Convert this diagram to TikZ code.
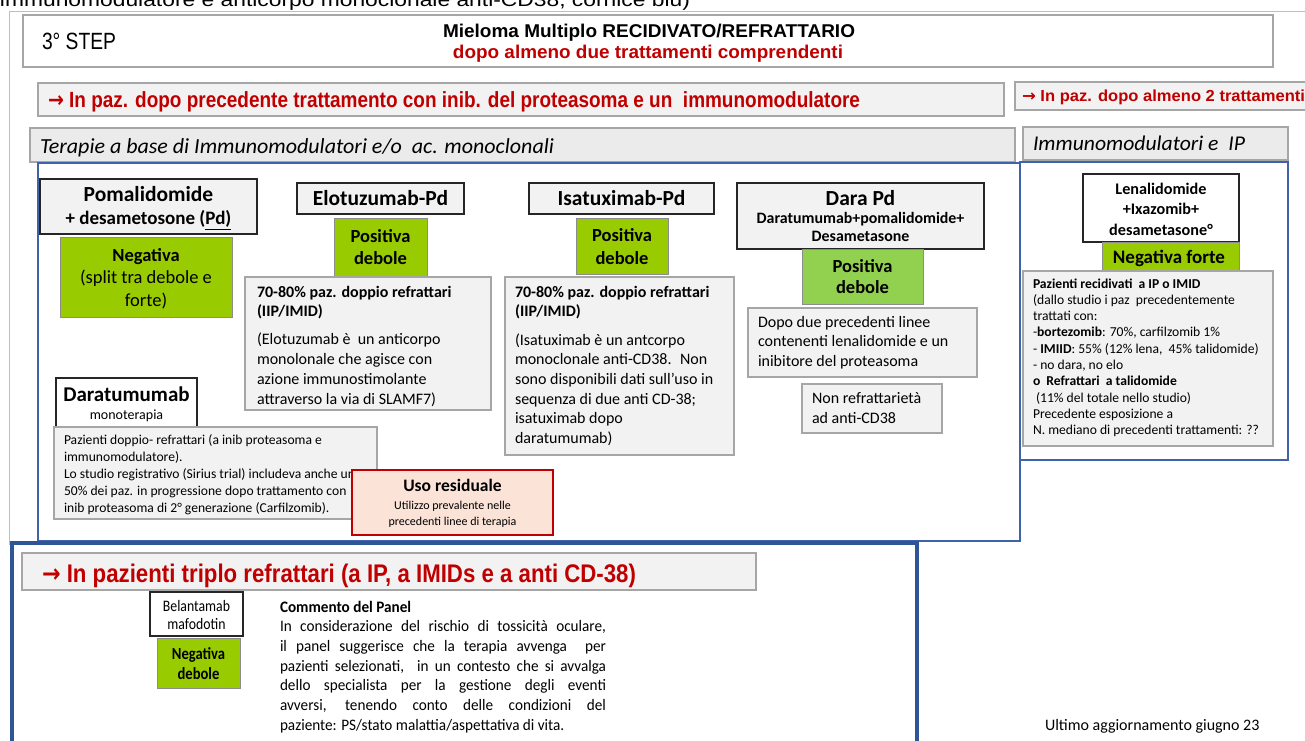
\documentclass[tikz,border=0pt]{standalone}
\usepackage{fontspec}
\usepackage{graphicx}
\setmainfont{Carlito}
\newfontfamily\arialf{Liberation Sans}
\newfontfamily\djvf{DejaVu Sans}
\newfontfamily\cnarrowf[FakeStretch=0.86]{Carlito}
\newfontfamily\cnarrowbf[FakeStretch=0.95]{Carlito}
\newcommand{\fitw}[2]{\resizebox{#1pt}{\height}{#2}}
\newcommand{\fsz}[2]{\fontsize{#1}{#2}\selectfont}
\newcommand{\rarr}{{\djvf →}}
\newcommand{\mkbox}[6]{\node[#1, minimum width={(#5)-(#3)}, minimum height={(#6)-(#4)}] (#2) at (#3,#4) {};}
\definecolor{redtxt}{HTML}{C00000}
\definecolor{boxgray}{HTML}{F2F2F2}
\definecolor{hdrgray}{HTML}{EBEBEB}
\definecolor{linegray}{HTML}{A6A6A6}
\definecolor{framegray}{HTML}{BFBFBF}
\definecolor{darkline}{HTML}{262626}
\definecolor{lime}{HTML}{99CC00}
\definecolor{lightgreen}{HTML}{92D050}
\definecolor{greenedge}{HTML}{8C8C8C}
\definecolor{bluepanel}{HTML}{3F62A8}
\definecolor{bluethick}{HTML}{2F5597}
\definecolor{salmon}{HTML}{FBE3D8}
\tikzset{
  box/.style={anchor=north west, inner sep=0pt, outer sep=0pt, rectangle},
  titlebx/.style={box, draw=linegray, line width=1.3pt, fill=white},
  stripbox/.style={box, draw=linegray, line width=1.4pt, fill=boxgray},
  hdrbox/.style={box, draw=linegray, line width=1.3pt, fill=hdrgray},
  graybox/.style={box, draw=linegray, line width=1.4pt, fill=boxgray},
  darkbox/.style={box, draw=darkline, line width=1.6pt, fill=boxgray},
  whitebox/.style={box, draw=darkline, line width=1.6pt, fill=white},
  greenbox/.style={box, draw=greenedge, line width=1pt, fill=lime},
  greenboxl/.style={box, draw=greenedge, line width=1pt, fill=lightgreen},
  usobox/.style={box, draw=redtxt, line width=1.2pt, fill=salmon},
  panel/.style={box, draw=bluepanel, line width=1.2pt},
  thickpanel/.style={box, draw=bluethick, line width=4.5pt},
  txt/.style={anchor=base west, inner sep=0pt, outer sep=0pt},
  ctxt/.style={anchor=base, inner sep=0pt, outer sep=0pt},
}
\begin{document}
\begin{tikzpicture}[x=1pt,y=-1pt]
\useasboundingbox (0,0) rectangle (1305,740);
\begin{scope}
\clip (0,0) rectangle (1305,740);
\fill[white] (0,0) rectangle (1305,740);

% cut text at top
\node[txt, font=\arialf\fsz{19}{20}] (cut) at (0,6) {\fitw{690}{immunomodulatore e anticorpo monoclonale anti-CD38, cornice blu)}};

% slide frame
\draw[framegray, line width=1.5pt] (9.5,545) -- (9.5,11.5) -- (1305,11.5);

% title
\mkbox{titlebx}{title}{23}{15}{1273}{67}
\node[txt, font=\arialf\fsz{23.5}{24}] (step) at (42,49) {\fitw{74}{3° STEP}};
\node[ctxt, font=\arialf\bfseries\fsz{18.5}{19}] (tl1) at (649,37.5) {\fitw{412}{Mieloma Multiplo RECIDIVATO/REFRATTARIO}};
\node[ctxt, font=\arialf\bfseries\fsz{18.5}{19}, text=redtxt] (tl2) at (648,58) {\fitw{390}{dopo almeno due trattamenti comprendenti}};

% strips
\mkbox{stripbox}{s1}{38}{83}{1004}{116}
\node[txt, font=\arialf\bfseries\fsz{22}{24}, text=redtxt] (s1t) at (48,107) {\fitw{812}{\rarr\ In paz. dopo precedente trattamento con inib. del proteasoma e un~ immunomodulatore}};
\mkbox{stripbox}{s2}{1015}{82}{1320}{110}
\node[txt, font=\arialf\bfseries\fsz{16}{17}, text=redtxt] (s2t) at (1022,101.5) {\fitw{283}{\rarr\ In paz. dopo almeno 2 trattamenti}};

% headers
\mkbox{hdrbox}{h1}{30}{128}{1015}{162}
\node[txt, font=\itshape\fsz{21.5}{22}] (h1t) at (40,153.5) {\fitw{514}{Terapie a base di Immunomodulatori e/o~ ac. monoclonali}};
\mkbox{hdrbox}{h2}{1023}{127}{1288}{160}
\node[txt, font=\itshape\fsz{21}{22}] (h2t) at (1033,150.5) {\fitw{212}{Immunomodulatori e~ IP}};

% panels
\mkbox{panel}{lp}{38}{163}{1020}{541}
\mkbox{panel}{rp}{1020}{162}{1288}{460}

% Pomalidomide
\mkbox{darkbox}{pom}{40}{179}{257}{234}
\node[ctxt, font=\bfseries\fsz{21.5}{24}] (pomt1) at (148.5,201.5) {Pomalidomide};
\node[ctxt, font=\bfseries\fsz{19}{22}] (pomt2) at (148.5,224.5) {+ desametosone (\underline{Pd)}};
\mkbox{greenbox}{pomg}{60}{237}{232}{317}
\node[ctxt, font=\fsz{18.5}{22.7}] (pomgt) at (146,261) {\parbox[t]{170pt}{\centering\textbf{Negativa}\\(split tra debole e\\forte)}};

% Elotuzumab
\mkbox{darkbox}{elo}{297}{183}{464}{214}
\node[ctxt, font=\bfseries\fsz{21.5}{24}] (elot) at (380.5,205) {Elotuzumab-Pd};
\mkbox{greenbox}{elog}{334}{218}{427}{276}
\node[ctxt, font=\bfseries\fsz{18.5}{22.5}] (elogt) at (380.5,242) {\parbox[t]{90pt}{\centering Positiva\\debole}};
\mkbox{graybox}{elod}{245}{277}{491}{410}
\node[txt, font=\fsz{16}{19.7}] (elodt) at (257,297) {\parbox[t]{230pt}{\raggedright\textbf{70-80\% paz. doppio refrattari}\\\textbf{(IIP/IMID)}\\[8.5pt](Elotuzumab è~ un anticorpo\\monolonale che agisce con\\azione immunostimolante\\attraverso la via di SLAMF7)}};

% Isatuximab
\mkbox{darkbox}{isa}{529}{183}{714}{214}
\node[ctxt, font=\bfseries\fsz{21.5}{24}] (isat) at (621.5,205) {Isatuximab-Pd};
\mkbox{greenbox}{isag}{576}{218}{668}{274}
\node[ctxt, font=\bfseries\fsz{18.5}{22.5}] (isagt) at (622,241.5) {\parbox[t]{90pt}{\centering Positiva\\debole}};
\mkbox{graybox}{isad}{505}{277}{734}{455}
\node[txt, font=\fsz{16}{19.6}] (isadt) at (515,297) {\parbox[t]{216pt}{\raggedright\textbf{70-80\% paz. doppio refrattari}\\\textbf{(IIP/IMID)}\\[9pt](Isatuximab è un antcorpo\\monoclonale anti-CD38.~ Non\\sono disponibili dati sull’uso in\\sequenza di due anti CD-38;\\isatuximab dopo\\daratumumab)}};

% Dara Pd
\mkbox{darkbox}{dara}{737}{183}{984}{249}
\node[ctxt, font=\bfseries\fsz{21.5}{24}] (darat1) at (860.5,205) {Dara Pd};
\node[ctxt, font=\bfseries\fsz{15.9}{18}] (darat2) at (860.5,223) {Daratumumab+pomalidomide+};
\node[ctxt, font=\bfseries\fsz{15.9}{18}] (darat3) at (860.5,241) {Desametasone};
\mkbox{greenboxl}{darag}{802}{249}{923}{304}
\node[ctxt, font=\bfseries\fsz{18.5}{21.5}] (daragt) at (862.5,272) {\parbox[t]{110pt}{\centering Positiva\\debole}};
\mkbox{graybox}{darad}{748}{308}{977}{377}
\node[txt, font=\fsz{16}{19.5}] (daradt) at (758,327) {\parbox[t]{215pt}{\raggedright Dopo due precedenti linee\\contenenti lenalidomide e un\\inibitore del proteasoma}};
\mkbox{graybox}{nonref}{802}{384}{942}{433}
\node[txt, font=\fsz{16}{20}] (nonreft) at (812,403) {\parbox[t]{125pt}{\raggedright Non refrattarietà\\ad anti-CD38}};

% Daratumumab monoterapia
\mkbox{whitebox}{daram}{56}{378}{197}{427}
\node[ctxt, font=\bfseries\fsz{21}{24}] (daramt1) at (126.5,401.5) {Daratumumab};
\node[ctxt, font=\fsz{14}{16}] (daramt2) at (126.5,419.5) {monoterapia};
\mkbox{graybox}{daramd}{54}{427}{377}{519}
\node[txt, font=\fsz{13.6}{17}] (daramdt) at (64,444) {\parbox[t]{320pt}{\raggedright Pazienti doppio- refrattari (a inib proteasoma e\\immunomodulatore).\\Lo studio registrativo (Sirius trial) includeva anche un\\50\% dei paz. in progressione dopo trattamento con\\inib proteasoma di 2° generazione (Carfilzomib).}};

% Uso residuale
\mkbox{usobox}{uso}{352}{470}{553}{535}
\node[ctxt, font=\bfseries\fsz{17.5}{20}] (usot1) at (452.5,491) {Uso residuale};
\node[ctxt, font=\fsz{12}{14}] (usot2) at (452.5,509.5) {Utilizzo prevalente nelle};
\node[ctxt, font=\fsz{12}{14}] (usot3) at (452.5,525.5) {precedenti linee di terapia};

% right panel content
\mkbox{whitebox}{len}{1083}{174}{1239}{242}
\node[ctxt, font=\bfseries\fsz{16.2}{20.5}] (lent) at (1161,194) {\parbox[t]{150pt}{\centering Lenalidomide\\+Ixazomib+\\desametasone°}};
\mkbox{greenbox}{leng}{1102}{242}{1239}{273}
\node[ctxt, font=\bfseries\fsz{19}{22}] (lengt) at (1169,263) {Negativa forte};
\mkbox{graybox}{lend}{1023}{271}{1273}{446}
\node[txt, font=\fsz{13.6}{16.3}] (lendt) at (1033,288) {\parbox[t]{240pt}{\raggedright\textbf{Pazienti recidivati~ a IP o IMID}\\(dallo studio i paz~ precedentemente\\trattati con:\\-\textbf{bortezomib}: 70\%, carfilzomib 1\%\\- \textbf{IMIID}: 55\% (12\% lena,~ 45\% talidomide)\\- no dara, no elo\\\textbf{o~ Refrattari~ a talidomide}\\\hspace*{3pt}(11\% del totale nello studio)\\Precedente esposizione a\\N. mediano di precedenti trattamenti: ??}};

% triple refractory section
\mkbox{thickpanel}{trip}{12}{543}{917}{780}
\mkbox{stripbox}{s3}{22}{553}{756}{590}
\node[txt, font=\arialf\bfseries\fsz{25.5}{27}, text=redtxt] (s3t) at (42,582) {\fitw{594}{\rarr\ In pazienti triplo refrattari (a IP, a IMIDs e a anti CD-38)}};
\mkbox{whitebox}{bel}{150}{592}{243}{636}
\node[ctxt, font=\cnarrowf\fsz{16}{18}] (belt) at (196.5,611) {\parbox[t]{90pt}{\centering Belantamab\\mafodotin}};
\mkbox{greenbox}{belg}{157}{638}{240}{688}
\node[ctxt, font=\cnarrowf\bfseries\fsz{17}{20}] (belgt) at (198.5,659) {\parbox[t]{80pt}{\centering Negativa\\debole}};
\node[txt, font=\cnarrowbf\fsz{16}{19.7}] (comm) at (280,612) {\parbox[t]{330pt}{\textbf{Commento del Panel}\\\makebox[326pt][s]{In considerazione del rischio di tossicità oculare,}\\\makebox[326pt][s]{il panel suggerisce che la terapia avvenga~ per}\\\makebox[326pt][s]{pazienti selezionati,~ in un contesto che si avvalga}\\\makebox[326pt][s]{dello specialista per la gestione degli eventi}\\\makebox[326pt][s]{avversi, tenendo conto delle condizioni del}\\paziente: PS/stato malattia/aspettativa di vita.}};

% footer
\node[txt, font=\fsz{16}{18}] (upd) at (1045,730) {Ultimo aggiornamento giugno 23};
\end{scope}
\end{tikzpicture}
\end{document}
